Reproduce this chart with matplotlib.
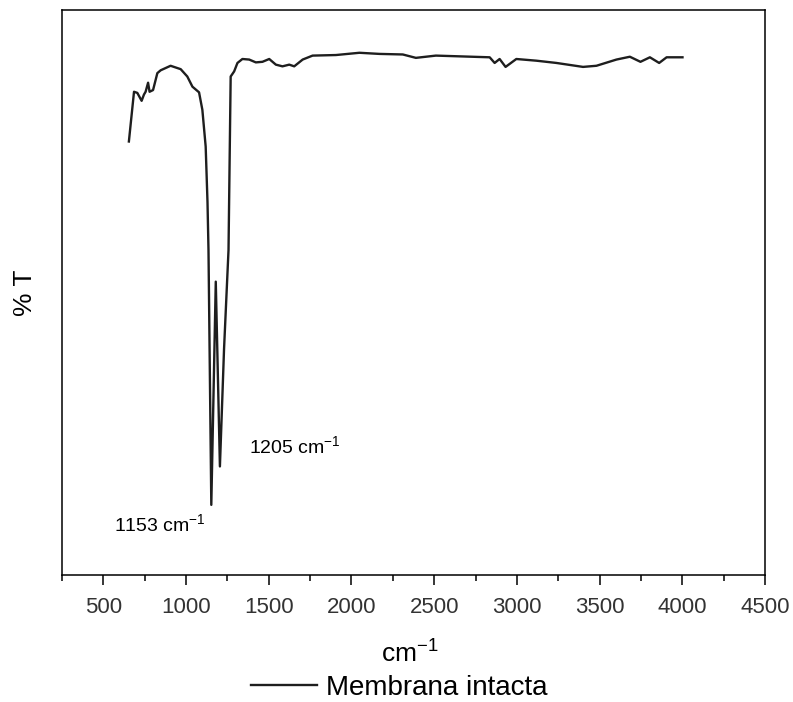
import matplotlib
matplotlib.use("Agg")
from matplotlib import pyplot as plt
from matplotlib.ticker import MultipleLocator

plt.rcParams['font.family'] = ['Liberation Sans', 'DejaVu Sans']
plt.rcParams['mathtext.fontset'] = 'custom'
plt.rcParams['mathtext.rm'] = 'Liberation Sans'

# wavenumber (cm-1) and transmittance (arbitrary %T scale)
wavenumber = [655, 686, 706, 732, 746, 756, 771, 780, 801, 827, 847, 907, 968,
              1008, 1039, 1079, 1099, 1119, 1130, 1136, 1153, 1180, 1205, 1230,
              1257, 1270, 1291, 1311, 1341, 1382, 1422, 1462, 1503, 1543, 1583,
              1624, 1654, 1705, 1765, 1906, 2048, 2169, 2310, 2389, 2510, 2835,
              2865, 2895, 2931, 2996, 3117, 3238, 3399, 3480, 3601, 3682, 3746,
              3803, 3859, 3904, 4000]
transmittance = [76.7, 85.5, 85.3, 83.9, 85.0, 85.5, 87.1, 85.5, 85.8, 88.8,
                 89.3, 90.1, 89.5, 88.2, 86.4, 85.4, 82.3, 75.8, 66.0, 57.5,
                 12.4, 51.9, 19.2, 40.0, 57.5, 88.2, 89.1, 90.6, 91.3, 91.2,
                 90.7, 90.8, 91.3, 90.3, 90.0, 90.3, 90.0, 91.2, 91.9, 92.0,
                 92.4, 92.2, 92.1, 91.5, 91.9, 91.6, 90.6, 91.3, 89.9, 91.3,
                 91.0, 90.6, 89.9, 90.1, 91.2, 91.7, 90.8, 91.6, 90.6, 91.6,
                 91.6]

peak_labels = ['1153 cm$^{-1}$', '1205 cm$^{-1}$']
peak_label_pos = [(845, 8.8), (1656, 22.7)]

fig = plt.figure(figsize=(7.93, 7.02), dpi=100)
ax = fig.add_axes([0.078, 0.181, 0.887, 0.805])

ax.plot(wavenumber, transmittance, color='#1e1e1e', lw=1.7, label='Membrana intacta')

for txt, (x, y) in zip(peak_labels, peak_label_pos):
    ax.text(x, y, txt, ha='center', va='center', fontsize=14)

ax.set_xlim(250, 4500)
ax.set_ylim(0, 100)
ax.xaxis.set_major_locator(MultipleLocator(500))
ax.xaxis.set_minor_locator(MultipleLocator(250))
ax.tick_params(axis='x', which='major', direction='out', length=7, width=1.1,
               labelsize=16, pad=9, labelcolor='#333333')
ax.tick_params(axis='x', which='minor', direction='out', length=4.5, width=1.1)
ax.set_yticks([])
for s in ax.spines.values():
    s.set_linewidth(1.1)

ax.set_xlabel('cm$^{-1}$', fontsize=19)
ax.xaxis.set_label_coords(0.495, -0.112)
ax.set_ylabel('% T', fontsize=19)
ax.yaxis.set_label_coords(-0.035, 0.5)

fig.legend(loc='center', bbox_to_anchor=(0.504, 0.02), frameon=False,
           fontsize=20, handlelength=2.35, handletextpad=0.35, borderpad=0)

fig.savefig('out.png', dpi=100)
